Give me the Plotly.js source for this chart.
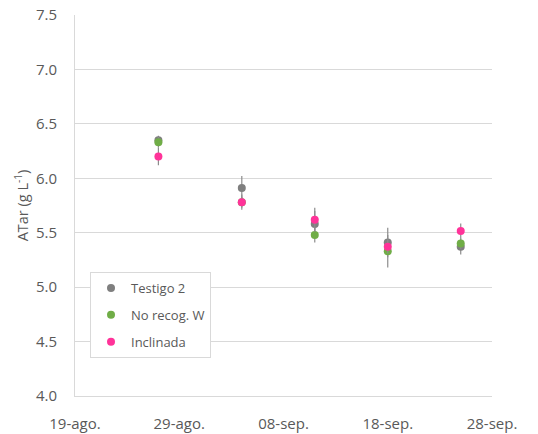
<!DOCTYPE html>
<html>
<head>
<meta charset="utf-8">
<script src="https://cdn.plot.ly/plotly-3.0.1.min.js"></script>
<style>html,body{margin:0;padding:0;background:#fff;}#chart{width:538px;height:434px;}</style>
</head>
<body>
<div id="chart"></div>
<script>
const dates = ['2018-08-27', '2018-09-04', '2018-09-11', '2018-09-18', '2018-09-25'];
const seriesNames = ['Testigo 2', 'No recog. W', 'Inclinada'];
const testigo2 = [6.35, 5.91, 5.58, 5.41, 5.37];
const testigo2Err = [0.04, 0.11, 0.12, 0.135, 0.07];
const noRecogW = [6.33, 5.78, 5.48, 5.33, 5.40];
const noRecogWErr = [0.05, 0.05, 0.07, 0.15, 0.05];
const inclinada = [6.20, 5.78, 5.62, 5.37, 5.515];
const inclinadaErr = [0.08, 0.07, 0.11, 0.06, 0.07];
const xTickVals = ['2018-08-19', '2018-08-29', '2018-09-08', '2018-09-18', '2018-09-28'];
const xTickText = ['19-ago.', '29-ago.', '08-sep.', '18-sep.', '28-sep.'];
const colors = ['#7f7f7f', '#70ad47', '#ff3399'];

const ys = [testigo2, noRecogW, inclinada];
const errs = [testigo2Err, noRecogWErr, inclinadaErr];
const traces = seriesNames.map((name, i) => ({
  type: 'scatter', mode: 'markers', name: name,
  x: dates, y: ys[i], legendgroup: 'g' + i,
  marker: {color: colors[i], size: 8},
  error_y: {type: 'data', array: errs[i], visible: true, color: '#8c8c8c', thickness: 1.2, width: 0}
}));

const font = {family: '"Open Sans", sans-serif', color: '#595959'};
const layout = {
  width: 538, height: 434,
  margin: {l: 75, r: 46, t: 15, b: 38},
  paper_bgcolor: '#fff', plot_bgcolor: '#fff',
  font: Object.assign({size: 15}, font),
  showlegend: true,
  legend: {
    x: 0.036, y: 0.3255, xanchor: 'left', yanchor: 'top',
    bgcolor: '#fff', bordercolor: '#d9d9d9', borderwidth: 1,
    font: Object.assign({size: 13}, font),
    traceorder: 'grouped', tracegroupgap: 7
  },
  xaxis: {
    type: 'date', range: ['2018-08-19', '2018-09-28'],
    tickmode: 'array', tickvals: xTickVals, ticktext: xTickText,
    showgrid: false, zeroline: false, showline: true, linecolor: '#d9d9d9', linewidth: 1,
    ticks: 'outside', ticklen: 14, tickcolor: 'rgba(0,0,0,0)',
    tickfont: Object.assign({size: 15}, font), fixedrange: true
  },
  yaxis: {
    range: [4, 7.5], dtick: 0.5, tick0: 4, tickformat: '.1f',
    showgrid: true, gridcolor: '#d9d9d9', gridwidth: 1,
    zeroline: false, showline: true, linecolor: '#d9d9d9', linewidth: 1,
    ticks: 'outside', ticklen: 14, tickcolor: 'rgba(0,0,0,0)',
    tickfont: Object.assign({size: 15}, font),
    title: {text: 'ATar (g L<sup>-1</sup>)', font: Object.assign({size: 14.5}, font), standoff: 3}
  }
};
Plotly.newPlot('chart', traces, layout, {displayModeBar: false, staticPlot: true});
</script>
</body>
</html>
